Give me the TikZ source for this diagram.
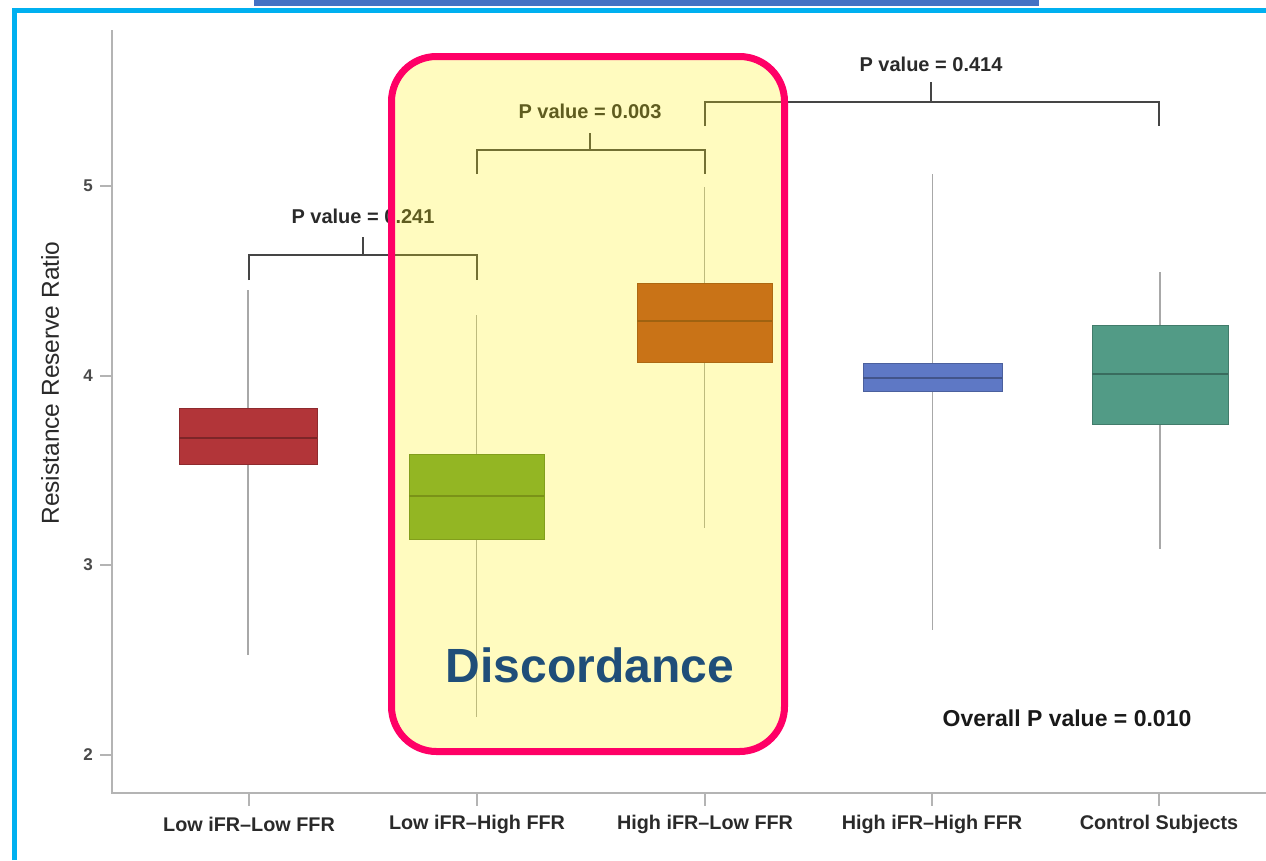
\documentclass[tikz,border=0pt]{standalone}
\usepackage{fontspec}
\setmainfont{Liberation Sans}
\definecolor{topbar}{HTML}{4472C4}
\definecolor{framecol}{HTML}{00B0F0}
\definecolor{axiscol}{HTML}{B4B4B4}
\definecolor{whiskcol}{HTML}{A8A8A8}
\definecolor{brackcol}{HTML}{454545}
\definecolor{txtcol}{HTML}{2A2A2A}
\definecolor{tickcol}{HTML}{4A4A4A}
\definecolor{cred}{HTML}{B23539}
\definecolor{cgreen}{HTML}{6FA32F}
\definecolor{corange}{HTML}{B7491F}
\definecolor{cblue}{HTML}{5E78C5}
\definecolor{cteal}{HTML}{529B86}
\definecolor{pinkcol}{HTML}{FF0066}
\definecolor{discol}{HTML}{1F4E79}
\tikzset{
  axisline/.style={draw=axiscol, line width=1.4},
  whisker/.style={draw=whiskcol, line width=1.1},
  bracket/.style={draw=brackcol, line width=1.8},
  plabel/.style={text=txtcol, font=\fontsize{20}{23}\selectfont\bfseries, inner sep=0},
  xlabel/.style={text=txtcol, font=\fontsize{19.8}{23}\selectfont\bfseries, inner sep=0},
  ylabel/.style={text=tickcol, font=\fontsize{17}{20}\selectfont\bfseries, inner sep=0},
}
\newcommand{\boxplot}[7]{% x1,x2,ytop,ybot,med,whtop,whbot ; colour via \bpcol
  \draw[whisker] ({(#1+#2)/2},#6) -- ({(#1+#2)/2},#7);
  \filldraw[fill=\bpcol, draw=\bpcol!80!black, line width=0.8] (#1,#3) rectangle (#2,#4);
  \draw[\bpcol!70!black, line width=1.2] (#1,#5) -- (#2,#5);
}
\begin{document}
\begin{tikzpicture}[x=1pt,y=-1pt]
\useasboundingbox (0,0) rectangle (1266,860);
\fill[white] (0,0) rectangle (1266,860);
% top bar and frame
\fill[topbar] (254,0) rectangle (1039,6);
\draw[framecol, line width=5] (14.5,860) -- (14.5,10.5) -- (1266,10.5);
% axes
\draw[axisline] (112,30) -- (112,793) -- (1266,793);
\foreach \yy/\lab/\nm in {186/5/t5, 376/4/t4, 565/3/t3, 755/2/t2}{
  \draw[axisline] (100,\yy) -- (112,\yy);
  \node[ylabel] (\nm) at (88,\yy) {\lab};
}
\foreach \xx in {249,477,705,932,1159}{
  \draw[axisline] (\xx,793) -- (\xx,806);
}
\node[xlabel] (xl1) at (249,824) {Low iFR–Low FFR};
\node[xlabel] (xl2) at (477,824) {Low iFR–High FFR};
\node[xlabel] (xl3) at (705,824) {High iFR–Low FFR};
\node[xlabel] (xl4) at (932,824) {High iFR–High FFR};
\node[xlabel] (xl5) at (1159,824) {Control Subjects};
\node[rotate=90, text=txtcol, font=\fontsize{24.5}{28}\selectfont, inner sep=0] (ylab) at (50,383) {Resistance Reserve Ratio};
% boxes
\def\bpcol{cred}\boxplot{179}{317}{408}{464}{438}{290}{655}
\def\bpcol{cgreen}\boxplot{409}{544}{454}{539}{496}{315}{717}
\def\bpcol{corange}\boxplot{637}{772}{283}{362}{321}{187}{528}
\def\bpcol{cblue}\boxplot{863}{1002}{363}{391}{378}{174}{630}
\def\bpcol{cteal}\boxplot{1092}{1228}{325}{424}{374}{272}{549}
% brackets
\draw[bracket] (249,280) -- (249,255) -- (477,255) -- (477,280);
\draw[bracket] (363,255) -- (363,237);
\node[plabel] (p1) at (363,216) {P value = 0.241};
\draw[bracket] (477,174) -- (477,150) -- (705,150) -- (705,174);
\draw[bracket] (590,150) -- (590,133);
\node[plabel] (p2) at (590,111) {P value = 0.003};
\draw[bracket] (705,126) -- (705,102) -- (1159,102) -- (1159,126);
\draw[bracket] (931,102) -- (931,82);
\node[plabel] (p3) at (931,64) {P value = 0.414};
\node[text=black!90, font=\fontsize{23}{26}\selectfont\bfseries, inner sep=0] (overall) at (1067,718) {Overall P value = 0.010};
% discordance highlight
\fill[yellow, fill opacity=0.25, rounded corners=45] (391.5,56.5) rectangle (784.5,751.5);
\draw[pinkcol, line width=7, rounded corners=45] (391.5,56.5) rectangle (784.5,751.5);
\node[text=discol, font=\fontsize{48}{54}\selectfont\bfseries, inner sep=0] (disc) at (590,665) {Discordance};
\end{tikzpicture}
\end{document}
